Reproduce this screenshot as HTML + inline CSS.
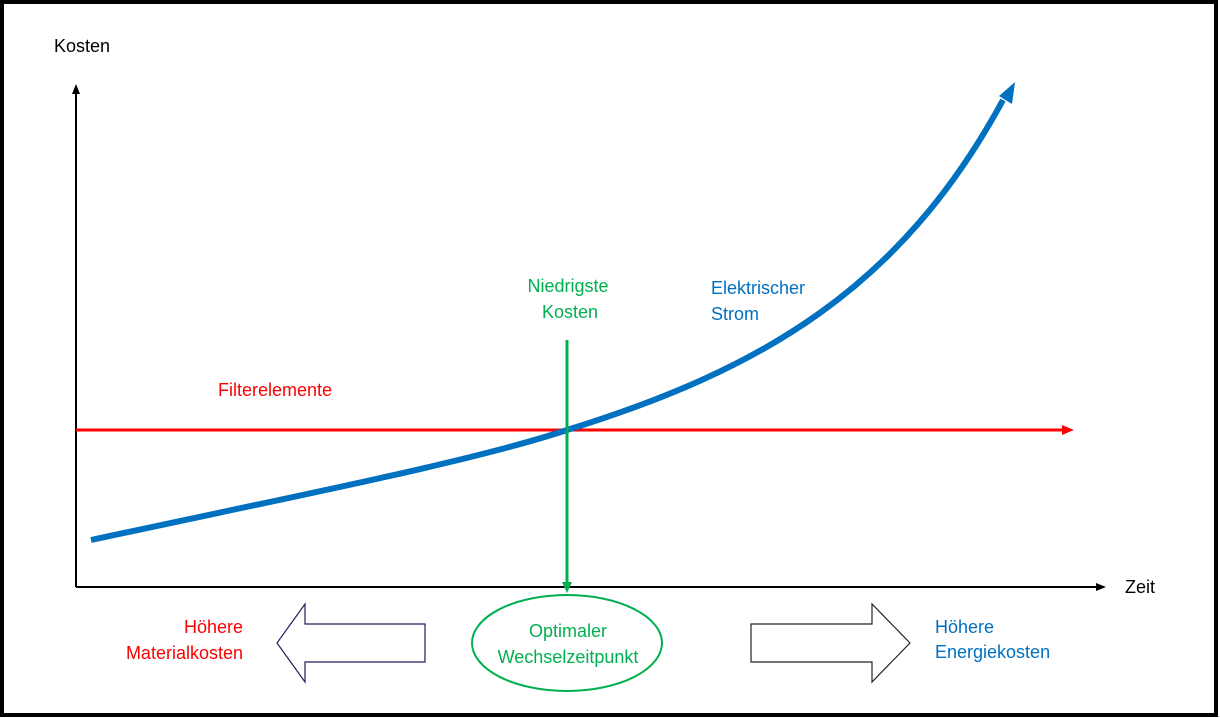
<!DOCTYPE html>
<html><head><style>
body{margin:0;background:#fff;}
svg{display:block;}
text{font-family:"Liberation Sans",Calibri,sans-serif;font-size:18px;}
</style></head><body>
<svg width="1220" height="718" viewBox="0 0 1220 718">
<rect x="2" y="2" width="1214" height="713" fill="#fff" stroke="#000" stroke-width="4"/>
<line x1="76" y1="587" x2="76" y2="92" stroke="#000" stroke-width="2"/>
<polygon points="76,84 72,94 80,94" fill="#000"/>
<line x1="76" y1="587" x2="1098" y2="587" stroke="#000" stroke-width="2"/>
<polygon points="1106,587 1096,583 1096,591" fill="#000"/>
<text x="54" y="52" fill="#000">Kosten</text>
<text x="1125" y="593" fill="#000">Zeit</text>
<line x1="76" y1="430" x2="1064" y2="430" stroke="#f00" stroke-width="3"/>
<polygon points="1074,430 1062,425 1062,435" fill="#f00"/>
<text x="218" y="396" fill="#f00">Filterelemente</text>
<path d="M91,540 C300,495 470,462 567,430 C760,370 900,290 1003,100" fill="none" stroke="#0070c0" stroke-width="6"/>
<polygon points="1015,82 999,96 1012,104" fill="#0070c0"/>
<text x="711" y="294" fill="#0070c0">Elektrischer</text>
<text x="711" y="320" fill="#0070c0">Strom</text>
<line x1="567" y1="340" x2="567" y2="584" stroke="#00b050" stroke-width="3"/>
<polygon points="567,593 562,582 572,582" fill="#00b050"/>
<text x="568" y="292" fill="#00b050" text-anchor="middle">Niedrigste</text>
<text x="570" y="318" fill="#00b050" text-anchor="middle">Kosten</text>
<ellipse cx="567" cy="643" rx="95" ry="48" fill="#fff" stroke="#00b050" stroke-width="2"/>
<text x="568" y="637" fill="#00b050" text-anchor="middle">Optimaler</text>
<text x="568" y="663" fill="#00b050" text-anchor="middle">Wechselzeitpunkt</text>
<polygon points="277,643 305,604 305,624 425,624 425,662 305,662 305,682" fill="#fff" stroke="#1f1f5f" stroke-width="1.2"/>
<polygon points="910,643 872,604 872,624 751,624 751,662 872,662 872,682" fill="#fff" stroke="#222" stroke-width="1.2"/>
<text x="243" y="633" fill="#f00" text-anchor="end">Höhere</text>
<text x="243" y="659" fill="#f00" text-anchor="end">Materialkosten</text>
<text x="935" y="633" fill="#0070c0">Höhere</text>
<text x="935" y="658" fill="#0070c0">Energiekosten</text>
</svg>
</body></html>
